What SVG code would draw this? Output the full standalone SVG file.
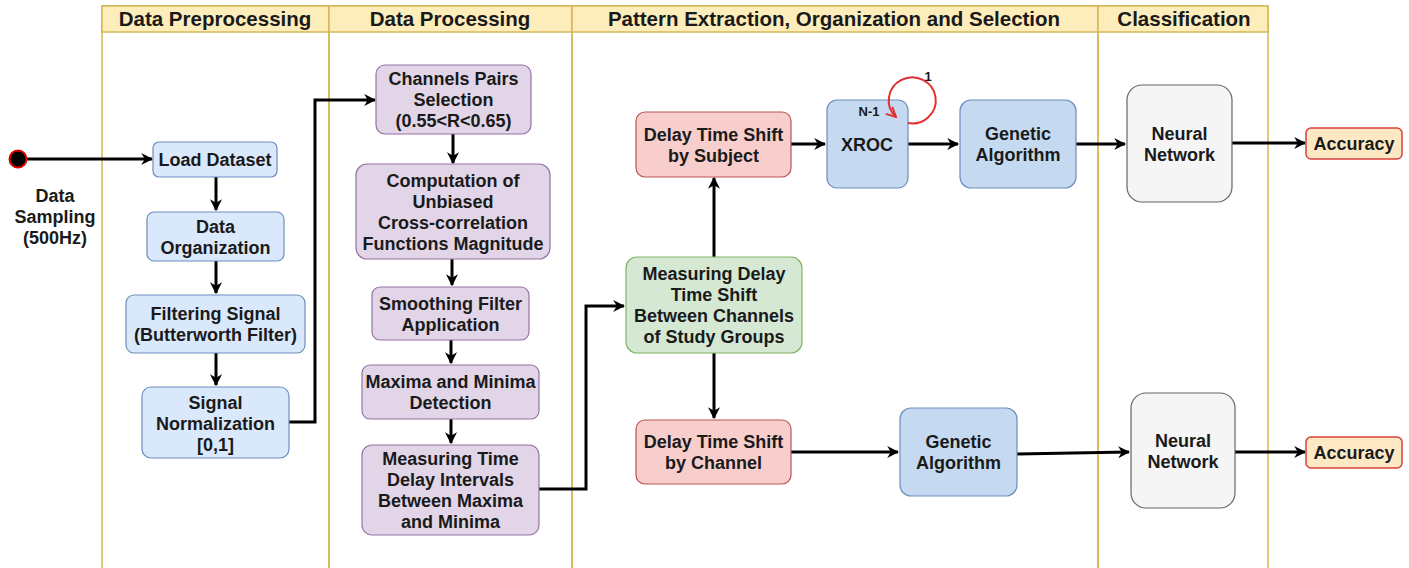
<svg xmlns="http://www.w3.org/2000/svg" width="1409" height="568" viewBox="0 0 1409 568">
<style>
text{font-family:"Liberation Sans",Arial,sans-serif;font-weight:bold;fill:#1a1a1a;text-anchor:middle}
.t{font-size:18px}
.s{font-size:13px}
.h{font-size:20.5px}
.lane{fill:none;stroke:#d6b656;stroke-width:1.5}
.hd{fill:#fdedbb;stroke:#d6b656;stroke-width:1.5}
.blue{fill:#dae8fc;stroke:#6c8ebf;stroke-width:1.2}
.blue2{fill:#c5daf1;stroke:#6c8ebf;stroke-width:1.2}
.pur{fill:#e1d5e7;stroke:#9673a6;stroke-width:1.2}
.red{fill:#f8cecc;stroke:#b85450;stroke-width:1.2}
.grn{fill:#d5e8d4;stroke:#82b366;stroke-width:1.2}
.gry{fill:#f5f5f5;stroke:#666;stroke-width:1.2}
.acc{fill:#fde8c4;stroke:#d9403a;stroke-width:1.5}
.c{fill:none;stroke:#000;stroke-width:3;marker-end:url(#ah)}
</style>
<defs>
<marker id="ah" viewBox="0 0 10 10" refX="9" refY="5" markerWidth="4" markerHeight="4" orient="auto" markerUnits="strokeWidth"><path d="M0,0 L10,5 L0,10 L3,5 Z" fill="#000"/></marker>
<marker id="ahr" viewBox="0 0 10 10" refX="9" refY="5" markerWidth="6" markerHeight="6" orient="auto" markerUnits="strokeWidth"><path d="M1,1 L9,5 L1,9" fill="none" stroke="#e03030" stroke-width="1.6"/></marker>
</defs>
<rect width="1409" height="568" fill="#fff"/>
<g id="lanes">
<rect class="lane" x="102" y="6" width="227" height="570"/>
<rect class="lane" x="329" y="6" width="243" height="570"/>
<rect class="lane" x="572" y="6" width="526" height="570"/>
<rect class="lane" x="1098" y="6" width="170" height="570"/>
<rect class="hd" x="102" y="6" width="227" height="26"/>
<rect class="hd" x="329" y="6" width="243" height="26"/>
<rect class="hd" x="572" y="6" width="526" height="26"/>
<rect class="hd" x="1098" y="6" width="170" height="26"/>
<text class="h" x="215" y="26">Data Preprocessing</text>
<text class="h" x="450" y="26">Data Processing</text>
<text class="h" x="834" y="26">Pattern Extraction, Organization and Selection</text>
<text class="h" x="1184" y="26">Classification</text>
</g>
<g id="connectors">
<path class="c" d="M27,159 H152"/>
<path class="c" d="M216,177 V210"/>
<path class="c" d="M216,261 V293"/>
<path class="c" d="M216,353 V385"/>
<path class="c" d="M289,422 H315 V100 H375"/>
<path class="c" d="M453,134 V163"/>
<path class="c" d="M452,259 V285"/>
<path class="c" d="M451,340 V363"/>
<path class="c" d="M451,419 V443"/>
<path class="c" d="M539,489 H586 V306 H624"/>
<path class="c" d="M714,257 V178"/>
<path class="c" d="M714,353 V418"/>
<path class="c" d="M791,144 H825"/>
<path class="c" d="M908,144 H958"/>
<path class="c" d="M1076,144 H1125"/>
<path class="c" d="M1232,143 H1305"/>
<path class="c" d="M791,452 H898"/>
<path class="c" d="M1017,454 L1129,452"/>
<path class="c" d="M1235,452 H1305"/>
</g>
<g id="start"><circle cx="18" cy="159" r="8.5" fill="#000" stroke="#d00" stroke-width="2"/>
<text class="t" x="55" y="202">Data</text><text class="t" x="55" y="223">Sampling</text><text class="t" x="55" y="244">(500Hz)</text></g>
<g id="load"><rect class="blue" x="153" y="142" width="124" height="35" rx="6"/><text class="t" x="215" y="166">Load Dataset</text></g>
<g id="org"><rect class="blue" x="147" y="212" width="137" height="49" rx="7"/><text class="t" x="215.5" y="232.5">Data</text><text class="t" x="215.5" y="253.5">Organization</text></g>
<g id="filt"><rect class="blue" x="126" y="295" width="179" height="58" rx="8"/><text class="t" x="215.5" y="320">Filtering Signal</text><text class="t" x="215.5" y="341">(Butterworth Filter)</text></g>
<g id="norm"><rect class="blue" x="142" y="387" width="147" height="71" rx="9"/><text class="t" x="215.5" y="409">Signal</text><text class="t" x="215.5" y="430">Normalization</text><text class="t" x="215.5" y="451">[0,1]</text></g>
<g id="pairs"><rect class="pur" x="376" y="65" width="155" height="69" rx="9"/><text class="t" x="453.5" y="85">Channels Pairs</text><text class="t" x="453.5" y="106">Selection</text><text class="t" x="453.5" y="127">(0.55&lt;R&lt;0.65)</text></g>
<g id="comp"><rect class="pur" x="356" y="164" width="194" height="95" rx="11"/><text class="t" x="453" y="187">Computation of</text><text class="t" x="453" y="208">Unbiased</text><text class="t" x="453" y="229">Cross-correlation</text><text class="t" x="453" y="250">Functions Magnitude</text></g>
<g id="smooth"><rect class="pur" x="372" y="287" width="157" height="53" rx="8"/><text class="t" x="450.5" y="309.5">Smoothing Filter</text><text class="t" x="450.5" y="330.5">Application</text></g>
<g id="maxmin"><rect class="pur" x="362" y="365" width="177" height="54" rx="8"/><text class="t" x="450.5" y="388">Maxima and Minima</text><text class="t" x="450.5" y="409">Detection</text></g>
<g id="meas"><rect class="pur" x="362" y="445" width="177" height="90" rx="10"/><text class="t" x="450.5" y="465">Measuring Time</text><text class="t" x="450.5" y="486">Delay Intervals</text><text class="t" x="450.5" y="507">Between Maxima</text><text class="t" x="450.5" y="528">and Minima</text></g>
<g id="mdelay"><rect class="grn" x="626" y="257" width="176" height="96" rx="11"/><text class="t" x="714" y="280">Measuring Delay</text><text class="t" x="714" y="301">Time Shift</text><text class="t" x="714" y="322">Between Channels</text><text class="t" x="714" y="343">of Study Groups</text></g>
<g id="subj"><rect class="red" x="636" y="112" width="155" height="65" rx="9"/><text class="t" x="713.5" y="140.5">Delay Time Shift</text><text class="t" x="713.5" y="161.5">by Subject</text></g>
<g id="chan"><rect class="red" x="636" y="420" width="155" height="64" rx="9"/><text class="t" x="713.5" y="448">Delay Time Shift</text><text class="t" x="713.5" y="469">by Channel</text></g>
<g id="xroc"><rect class="blue2" x="827" y="100" width="81" height="88" rx="10"/><text class="s" x="869" y="116">N-1</text><text class="t" x="867" y="151">XROC</text></g>
<g id="ga1"><rect class="blue2" x="960" y="100" width="116" height="88" rx="11"/><text class="t" x="1018" y="140">Genetic</text><text class="t" x="1018" y="161">Algorithm</text></g>
<g id="ga2"><rect class="blue2" x="900" y="408" width="117" height="88" rx="11"/><text class="t" x="958.5" y="448">Genetic</text><text class="t" x="958.5" y="469">Algorithm</text></g>
<g id="nn1"><rect class="gry" x="1127" y="85" width="105" height="117" rx="15"/><text class="t" x="1179.5" y="139.5">Neural</text><text class="t" x="1179.5" y="160.5">Network</text></g>
<g id="nn2"><rect class="gry" x="1131" y="393" width="104" height="115" rx="15"/><text class="t" x="1183" y="446.5">Neural</text><text class="t" x="1183" y="467.5">Network</text></g>
<g id="acc1"><rect class="acc" x="1306" y="128" width="96" height="31" rx="5"/><text class="t" x="1354" y="150">Accuracy</text></g>
<g id="acc2"><rect class="acc" x="1306" y="437" width="96" height="31" rx="5"/><text class="t" x="1354" y="459">Accuracy</text></g>
<g id="loop">
<path d="M908,123 A23.5,23 0 1 0 896,117" fill="none" stroke="#e03030" stroke-width="2" marker-end="url(#ahr)"/>
<text class="s" x="928" y="81">1</text>
</g>
</svg>
